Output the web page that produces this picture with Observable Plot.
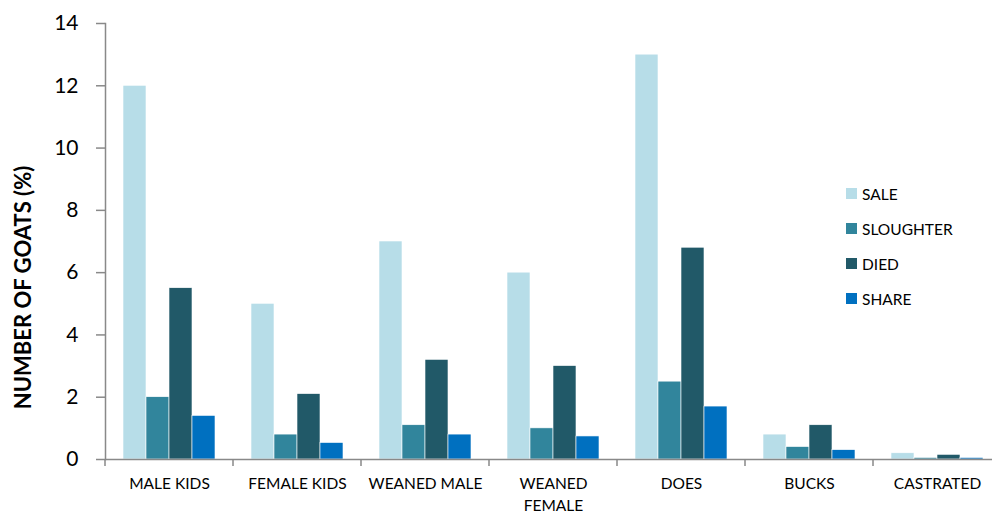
<!DOCTYPE html>
<html><head><meta charset="utf-8">
<script src="https://cdn.jsdelivr.net/npm/d3@7"></script>
<script src="https://cdn.jsdelivr.net/npm/@observablehq/plot@0.6"></script>
<style>
body{margin:0;background:#fff;font-family:Lato,"Open Sans",sans-serif;}
#chart{position:relative;width:992px;height:514px;}
#legend{position:absolute;left:846px;top:176px;font-size:15.5px;color:#000;}
#legend .row{display:flex;align-items:center;height:35px;}
#legend .sw{width:11px;height:11px;margin-right:5px;}
</style>
</head><body><div id="chart"></div>
<script>
const categories = ["MALE KIDS","FEMALE KIDS","WEANED MALE","WEANED FEMALE","DOES","BUCKS","CASTRATED"];
const categoryLabels = ["MALE KIDS","FEMALE KIDS","WEANED MALE","WEANED\nFEMALE","DOES","BUCKS","CASTRATED"];
const series = ["SALE","SLOUGHTER","DIED","SHARE"];
const colors = ["#b7dde8","#31859c","#215968","#0070c0"];
const sale = [12,5,7,6,13,0.8,0.2];
const sloughter = [2,0.8,1.1,1.0,2.5,0.4,0.05];
const died = [5.5,2.1,3.2,3.0,6.8,1.1,0.15];
const share = [1.4,0.53,0.8,0.74,1.7,0.3,0.05];
const yTicks = [0,2,4,6,8,10,12,14];
const yTitle = "NUMBER OF GOATS (%)";

const seriesValues = [sale, sloughter, died, share];
const data = [];
categories.forEach((c, i) => series.forEach((s, j) => data.push({category: c, series: s, value: seriesValues[j][i]})));

const axisGray = "#898989";

function boundaryTicks(index, scales, values, dimensions) {
  const fx = scales.fx, y = scales.y;
  const bw = fx.bandwidth();
  const xs = categories.map(c => fx(c)).concat([fx(categories[categories.length - 1]) + bw]);
  const y0 = y(0);
  const g = d3.create("svg:g").attr("stroke", axisGray).attr("stroke-width", 1.5);
  g.selectAll("line").data(xs).join("line")
    .attr("x1", d => d).attr("x2", d => d)
    .attr("y1", y0).attr("y2", y0 + 7);
  return g.node();
}

const plot = Plot.plot({
  width: 992, height: 514,
  marginLeft: 105, marginTop: 23, marginBottom: 55, marginRight: -9,
  style: {fontFamily: "Lato, 'Open Sans', sans-serif", background: "transparent", color: "#000"},
  fx: {domain: categories, padding: 0},
  x: {domain: series, paddingInner: 0, paddingOuter: 0.745, axis: null},
  y: {domain: [0, 14]},
  color: {domain: series, range: colors},
  marks: [
    Plot.barY(data, {fx: "category", x: "series", y: "value", fill: "series", stroke: "white", strokeWidth: 0.6}),
    Plot.ruleY([0], {stroke: axisGray, strokeWidth: 1.5}),
    Plot.frame({anchor: "left", facetAnchor: "left", stroke: axisGray, strokeWidth: 1.5}),
    Plot.axisY({ticks: yTicks, tickSize: 9, tickPadding: 18, fontSize: 21, stroke: axisGray, strokeWidth: 1.5, fill: "#000", label: null}),
    Plot.axisFx({anchor: "bottom", tickSize: 0, tickPadding: 14, fontSize: 15.5, fill: "#000", lineHeight: 1.42,
      tickFormat: c => categoryLabels[categories.indexOf(c)], label: null}),
    Plot.text([yTitle], {x: null, y: null, facet: "super", frameAnchor: "left", textAnchor: "middle", rotate: -90, dx: -82, dy: 46, fontSize: 22, fontWeight: "bold", fill: "#000"}),
    Plot.frame({facet: "super", render: boundaryTicks})
  ]
});

const chart = document.getElementById("chart");
chart.appendChild(plot);
const legend = document.createElement("div");
legend.id = "legend";
series.forEach((s, i) => {
  const row = document.createElement("div");
  row.className = "row";
  const sw = document.createElement("span");
  sw.className = "sw";
  sw.style.background = colors[i];
  const t = document.createElement("span");
  t.textContent = s;
  row.appendChild(sw); row.appendChild(t);
  legend.appendChild(row);
});
chart.appendChild(legend);
</script>
</body></html>
